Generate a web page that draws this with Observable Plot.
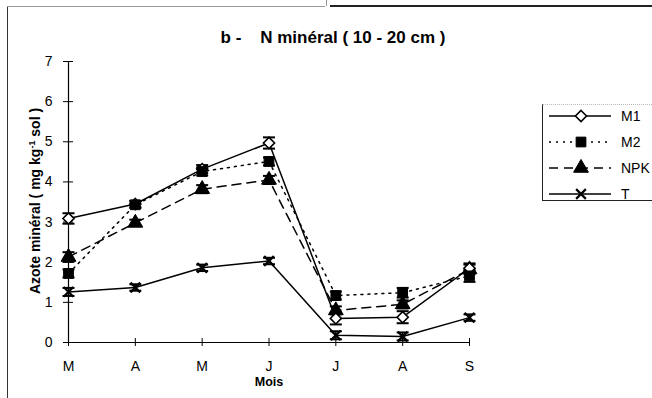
<!DOCTYPE html>
<html>
<head>
<meta charset="utf-8">
<script src="https://cdn.jsdelivr.net/npm/d3@7"></script>
<script src="https://cdn.jsdelivr.net/npm/@observablehq/plot@0.6"></script>
<style>
  html, body { margin: 0; padding: 0; background: #fff; }
  #wrap { position: relative; width: 652px; height: 398px; overflow: hidden; font-family: "Liberation Sans", Arial, sans-serif; }
  #title { position: absolute; top: 38px; left: 333px; transform: translate(-50%, -50%); white-space: pre; font-weight: bold; font-size: 17px; }
  #ylabel { position: absolute; left: 35px; top: 201px; transform: translate(-50%, -50%) rotate(-90deg); white-space: nowrap; font-weight: bold; font-size: 14px; }
  #ylabel sup { font-size: 9px; }
  .deco { position: absolute; }
  #legend { position: absolute; left: 542px; top: 104px; width: 130px; height: 97px; border-left: 1px solid #222; border-bottom: 1px solid #222; border-top: 1px dotted #bbb; box-sizing: border-box; }
  .lg { position: absolute; left: 4px; height: 20px; display: flex; align-items: center; font-size: 14px; }
  .lg svg { display: block; }
</style>
</head>
<body>
<div id="wrap">
  <div class="deco" style="left:7px;top:7px;width:0;height:391px;border-left:1.5px solid #333;"></div>
  <div class="deco" style="left:7px;top:6px;width:318px;height:0;border-top:1px solid #999;"></div>
  <div class="deco" style="left:326px;top:0px;width:0;height:6px;border-left:1px solid #999;"></div>
  <div class="deco" style="left:330px;top:5px;width:322px;height:0;border-top:2px solid #222;"></div>
  <div id="chart"></div>
  <div id="title">b -    N minéral ( 10 - 20 cm )</div>
  <div id="ylabel">Azote minéral ( mg kg<sup>-1</sup> sol )</div>
  <div id="legend"></div>
</div>
<script>
// ---- data ----
const months = ["M", "A", "M", "J", "J", "A", "S"];
const yTicks = [0, 1, 2, 3, 4, 5, 6, 7];
const seriesNames = ["M1", "M2", "NPK", "T"];
const m1 = [3.09, 3.45, 4.32, 4.97, 0.60, 0.63, 1.85];
const m2 = [1.72, 3.43, 4.26, 4.51, 1.17, 1.24, 1.66];
const npk = [2.13, 2.98, 3.82, 4.05, 0.80, 0.95, 1.82];
const t = [1.26, 1.37, 1.86, 2.03, 0.18, 0.15, 0.62];
const m1Err = [0.13, 0.08, 0.10, 0.14, 0.15, 0.15, 0.12];
const m2Err = [0.10, 0.08, 0.10, 0.10, 0.10, 0.12, 0.15];
const npkErr = [0.12, 0.08, 0.10, 0.10, 0.10, 0.10, 0.12];
const tErr = [0.10, 0.08, 0.08, 0.08, 0.10, 0.10, 0.08];

const values = {M1: m1, M2: m2, NPK: npk, T: t};
const errors = {M1: m1Err, M2: m2Err, NPK: npkErr, T: tErr};

// ---- styles ----
const styles = {
  M1:  {dash: null,  symbol: "diamond2", d3sym: d3.symbolDiamond2, fill: "white", r: 5,   sw: 1.6},
  M2:  {dash: "2,5", symbol: "square",   d3sym: d3.symbolSquare,   fill: "black", r: 5.5, sw: 1},
  NPK: {dash: "9,6", symbol: "triangle", d3sym: d3.symbolTriangle, fill: "black", r: 5.5, sw: 1},
  T:   {dash: null,  symbol: "times",    d3sym: d3.symbolTimes,    fill: "none",  r: 4.5, sw: 2.2}
};

const rows = seriesNames.flatMap(s => values[s].map((v, i) => ({s, i, v, e: errors[s][i]})));

const cap = { draw(ctx) { ctx.moveTo(-6, 0); ctx.lineTo(6, 0); } };

const marks = [
  Plot.ruleX([0], {stroke: "black", strokeWidth: 1.2}),
  Plot.ruleY([0], {stroke: "black", strokeWidth: 1}),
  Plot.axisY({ticks: yTicks, tickSize: 10, dx: 5, tickPadding: 11, tickFormat: d => d, fontSize: 14, label: null, stroke: "black"}),
  Plot.axisX({ticks: d3.range(months.length), tickSize: 8, dy: -4, tickPadding: 15, tickFormat: i => months[i], fontSize: 14, label: null}),
  Plot.text(["Mois"], {frameAnchor: "bottom", dy: 43, fontWeight: "bold", fontSize: 12.5})
];

// lines
for (const s of ["T", "NPK", "M1", "M2"]) {
  const st = styles[s];
  marks.push(Plot.line(rows.filter(d => d.s === s), {x: "i", y: "v", stroke: "black", strokeWidth: 1.5, strokeDasharray: st.dash}));
}
// error bars
marks.push(Plot.ruleX(rows, {x: "i", y1: d => d.v - d.e, y2: d => d.v + d.e, stroke: "black", strokeWidth: 1.5}));
marks.push(Plot.dot(rows, {x: "i", y: d => d.v + d.e, symbol: cap, stroke: "black", strokeWidth: 2, r: 5}));
marks.push(Plot.dot(rows, {x: "i", y: d => d.v - d.e, symbol: cap, stroke: "black", strokeWidth: 2, r: 5}));
// markers
for (const s of ["T", "NPK", "M1", "M2"]) {
  const st = styles[s];
  const data = rows.filter(d => d.s === s);
  if (s === "T") {
    marks.push(Plot.dot(data, {x: "i", y: "v", symbol: st.symbol, r: st.r, stroke: "black", strokeWidth: st.sw}));
  } else {
    marks.push(Plot.dot(data, {x: "i", y: "v", symbol: st.symbol, r: st.r, fill: st.fill, stroke: "black", strokeWidth: st.sw}));
  }
}

const chart = Plot.plot({
  width: 652,
  height: 398,
  marginLeft: 68,
  marginRight: 183,
  marginTop: 61,
  marginBottom: 56,
  style: {fontFamily: "'Liberation Sans', Arial, sans-serif", color: "black", background: "transparent"},
  x: {domain: [0, months.length - 1]},
  y: {domain: [0, 7]},
  marks
});
document.getElementById("chart").appendChild(chart);

// legend
const legend = document.getElementById("legend");
seriesNames.forEach((s, k) => {
  const st = styles[s];
  const row = document.createElement("div");
  row.className = "lg";
  row.style.top = (1 + k * 26) + "px";
  const svg = d3.create("svg").attr("width", 70).attr("height", 20);
  svg.append("line").attr("x1", 2).attr("x2", 64).attr("y1", 10).attr("y2", 10)
    .attr("stroke", "black").attr("stroke-width", 1.5).attr("stroke-dasharray", st.dash);
  const size = Math.PI * st.r * st.r;
  svg.append("path").attr("transform", "translate(34,10)")
    .attr("d", d3.symbol(st.d3sym, size)())
    .attr("fill", s === "T" ? "none" : st.fill).attr("stroke", "black").attr("stroke-width", st.sw);
  row.appendChild(svg.node());
  const lab = document.createElement("span");
  lab.textContent = s;
  lab.style.marginLeft = "4px";
  row.appendChild(lab);
  legend.appendChild(row);
});
</script>
</body>
</html>
